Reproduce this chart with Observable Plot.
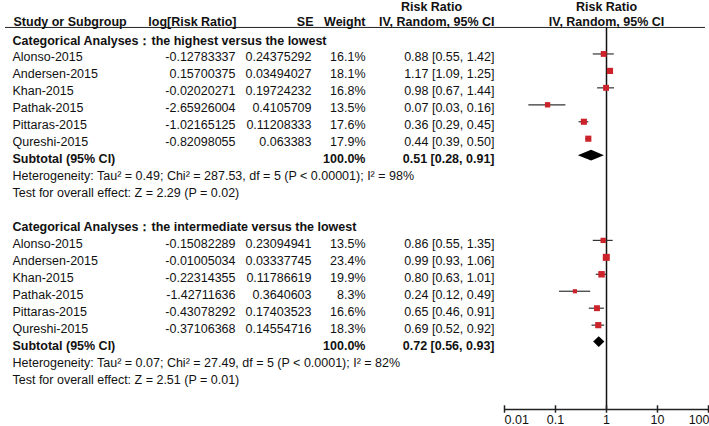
<!DOCTYPE html>
<html>
<head>
<meta charset="utf-8">
<script src="https://cdn.jsdelivr.net/npm/d3@7"></script>
<script src="https://cdn.jsdelivr.net/npm/@observablehq/plot@0.6"></script>
<style>
  html, body { margin: 0; padding: 0; background: #fff; }
</style>
</head>
<body>
<div id="chart"></div>
<script>
// ---------- data ----------
const studies = ["Alonso-2015", "Andersen-2015", "Khan-2015", "Pathak-2015", "Pittaras-2015", "Qureshi-2015"];

const g1Title = "Categorical Analyses：the highest versus the lowest";
const g1Log = ["-0.12783337", "0.15700375", "-0.02020271", "-2.65926004", "-1.02165125", "-0.82098055"];
const g1SE = ["0.24375292", "0.03494027", "0.19724232", "0.4105709", "0.11208333", "0.063383"];
const g1W = [16.1, 18.1, 16.8, 13.5, 17.6, 17.9];
const g1RR = [0.88, 1.17, 0.98, 0.07, 0.36, 0.44];
const g1Lo = [0.55, 1.09, 0.67, 0.03, 0.29, 0.39];
const g1Hi = [1.42, 1.25, 1.44, 0.16, 0.45, 0.50];
const g1Total = [0.51, 0.28, 0.91];
const g1Het = "Heterogeneity: Tau² = 0.49; Chi² = 287.53, df = 5 (P < 0.00001); I² = 98%";
const g1Test = "Test for overall effect: Z = 2.29 (P = 0.02)";

const g2Title = "Categorical Analyses：the intermediate versus the lowest";
const g2Log = ["-0.15082289", "-0.01005034", "-0.22314355", "-1.42711636", "-0.43078292", "-0.37106368"];
const g2SE = ["0.23094941", "0.03337745", "0.11786619", "0.3640603", "0.17403523", "0.14554716"];
const g2W = [13.5, 23.4, 19.9, 8.3, 16.6, 18.3];
const g2RR = [0.86, 0.99, 0.80, 0.24, 0.65, 0.69];
const g2Lo = [0.55, 0.93, 0.63, 0.12, 0.46, 0.52];
const g2Hi = [1.35, 1.06, 1.01, 0.49, 0.91, 0.92];
const g2Total = [0.72, 0.56, 0.93];
const g2Het = "Heterogeneity: Tau² = 0.07; Chi² = 27.49, df = 5 (P < 0.0001); I² = 82%";
const g2Test = "Test for overall effect: Z = 2.51 (P = 0.01)";

const subtotalLabel = "Subtotal (95% CI)";
const totalWeight = "100.0%";
const axisTicks = [0.01, 0.1, 1, 10, 100];
const axisLabels = ["0.01", "0.1", "1", "10", "100"];
const headerLeft = ["Study or Subgroup", "log[Risk Ratio]", "SE", "Weight"];
const headerRR = ["Risk Ratio", "IV, Random, 95% CI"];

// ---------- layout (rows) ----------
const ROW_HEAD1 = -2.0, ROW_HEAD2 = -1.12, ROW_RULE = -0.77, ROW_AXIS = 21.77, ROW_TICKLAB = 22.38, TICK_HALF = 0.22;
const fmt2 = v => v.toFixed(2);
const ciText = (r, l, h) => `${fmt2(r)} [${fmt2(l)}, ${fmt2(h)}]`;

const groups = [
  {start: 0, title: g1Title, log: g1Log, se: g1SE, w: g1W, rr: g1RR, lo: g1Lo, hi: g1Hi, total: g1Total, het: g1Het, test: g1Test},
  {start: 11, title: g2Title, log: g2Log, se: g2SE, w: g2W, rr: g2RR, lo: g2Lo, hi: g2Hi, total: g2Total, het: g2Het, test: g2Test}
];

const studyRows = [], titleRows = [], subRows = [], noteRows = [], diamond = [];
groups.forEach((g, gi) => {
  titleRows.push({k: g.start, text: g.title});
  studies.forEach((s, i) => {
    studyRows.push({k: g.start + 1 + i, name: s, log: g.log[i], se: g.se[i], w: g.w[i],
      rr: g.rr[i], lo: g.lo[i], hi: g.hi[i], ci: ciText(g.rr[i], g.lo[i], g.hi[i])});
  });
  const ks = g.start + 7;
  subRows.push({k: ks, name: subtotalLabel, weight: totalWeight, ci: ciText(...g.total)});
  noteRows.push({k: g.start + 8, text: g.het});
  noteRows.push({k: g.start + 9, text: g.test});
  const h = 0.32;
  diamond.push({g: gi, y: ks - h, x1: g.total[0], x2: g.total[0]});
  diamond.push({g: gi, y: ks, x1: g.total[1], x2: g.total[2]});
  diamond.push({g: gi, y: ks + h, x1: g.total[0], x2: g.total[0]});
});

const FONT = "'Liberation Sans', Arial, Helvetica, sans-serif";
const FS = 12.5;
const TXT = "#111";
const RED = "#cc2229";
const DY = -3.5;
const L = 5; // frame left

const txt = (data, opts) => Plot.text(data, Object.assign({fontSize: FS, fill: TXT, frameAnchor: "left"}, opts));

const plot = Plot.plot({
  width: 709,
  height: 426,
  marginLeft: L,
  marginRight: 4,
  marginTop: 0,
  marginBottom: 0,
  style: {fontFamily: FONT, fontSize: FS + "px", background: "#fff"},
  x: {type: "log", domain: [0.01, 100], range: [504, 708], axis: null},
  y: {domain: [0, 20], range: [40, 40 + 20 * 16.95], axis: null},
  r: {type: "identity"},
  marks: [
    // header rule
    Plot.ruleY([ROW_RULE], {stroke: "#222", strokeWidth: 1}),
    // null line
    Plot.ruleX([1], {y1: ROW_RULE, y2: ROW_AXIS, stroke: "#111", strokeWidth: 1.5}),
    // axis
    Plot.ruleY([ROW_AXIS], {x1: axisTicks[0], x2: axisTicks[axisTicks.length - 1], stroke: "#222", strokeWidth: 1.5}),
    Plot.ruleX(axisTicks, {x: d => d, y1: ROW_AXIS - TICK_HALF, y2: ROW_AXIS + TICK_HALF, stroke: "#222", strokeWidth: 1.5}),
    Plot.text(axisTicks.slice(0, 1), {x: d => d, y: ROW_TICKLAB, text: (d, i) => axisLabels[0], textAnchor: "start", fontSize: FS, fill: TXT}),
    Plot.text(axisTicks.slice(1, -1), {x: d => d, y: ROW_TICKLAB, text: (d, i) => axisLabels[i + 1], textAnchor: "middle", fontSize: FS, fill: TXT}),
    Plot.text(axisTicks.slice(-1), {x: d => d, y: ROW_TICKLAB, text: d => axisLabels[axisLabels.length - 1], textAnchor: "end", dx: 1, fontSize: FS, fill: TXT}),

    // headers
    txt([headerLeft[0]], {y: ROW_HEAD2, text: d => d, dx: 13 - L, fontWeight: "bold", textAnchor: "start"}),
    txt([headerLeft[1]], {y: ROW_HEAD2, text: d => d, dx: 236 - L, fontWeight: "bold", textAnchor: "end"}),
    txt([headerLeft[2]], {y: ROW_HEAD2, text: d => d, dx: 313 - L, fontWeight: "bold", textAnchor: "end"}),
    txt([headerLeft[3]], {y: ROW_HEAD2, text: d => d, dx: 365 - L, fontWeight: "bold", textAnchor: "end"}),
    txt([headerRR[0]], {y: ROW_HEAD1, text: d => d, dx: 431 - L, fontWeight: "bold", textAnchor: "middle"}),
    txt([headerRR[1]], {y: ROW_HEAD2, text: d => d, dx: 494 - L, fontWeight: "bold", textAnchor: "end"}),
    Plot.text([headerRR[0]], {x: 1, y: ROW_HEAD1, text: d => d, fontWeight: "bold", fontSize: FS, fill: TXT}),
    Plot.text([headerRR[1]], {x: 1, y: ROW_HEAD2, text: d => d, fontWeight: "bold", fontSize: FS, fill: TXT}),

    // group titles
    txt(titleRows, {y: "k", text: "text", dx: 12 - L, fontWeight: "bold", textAnchor: "start"}),
    // study rows
    txt(studyRows, {y: "k", text: "name", dx: 12 - L, textAnchor: "start"}),
    txt(studyRows, {y: "k", text: "log", dx: 235 - L, textAnchor: "end"}),
    txt(studyRows, {y: "k", text: "se", dx: 311 - L, textAnchor: "end"}),
    txt(studyRows, {y: "k", text: d => d.w.toFixed(1) + "%", dx: 365 - L, textAnchor: "end"}),
    txt(studyRows, {y: "k", text: "ci", dx: 494 - L, textAnchor: "end"}),
    // subtotal rows
    txt(subRows, {y: "k", text: "name", dx: 12 - L, fontWeight: "bold", textAnchor: "start"}),
    txt(subRows, {y: "k", text: "weight", dx: 365 - L, fontWeight: "bold", textAnchor: "end"}),
    txt(subRows, {y: "k", text: "ci", dx: 494 - L, fontWeight: "bold", textAnchor: "end"}),
    // notes
    txt(noteRows, {y: "k", text: "text", dx: 12 - L, textAnchor: "start"}),

    // forest: CIs and squares
    Plot.ruleY(studyRows, {y: "k", x1: "lo", x2: "hi", dy: DY, stroke: "#333", strokeWidth: 1.2}),
    Plot.dot(studyRows, {x: "rr", y: "k", r: d => 1.45 * Math.sqrt(d.w) / Math.sqrt(Math.PI), symbol: "square", fill: RED, stroke: "none", dy: DY}),
    // diamonds
    Plot.areaX(diamond, {y: "y", x1: "x1", x2: "x2", z: "g", fill: "#000", curve: "linear", dy: DY})
  ]
});

document.getElementById("chart").appendChild(plot);
</script>
</body>
</html>
